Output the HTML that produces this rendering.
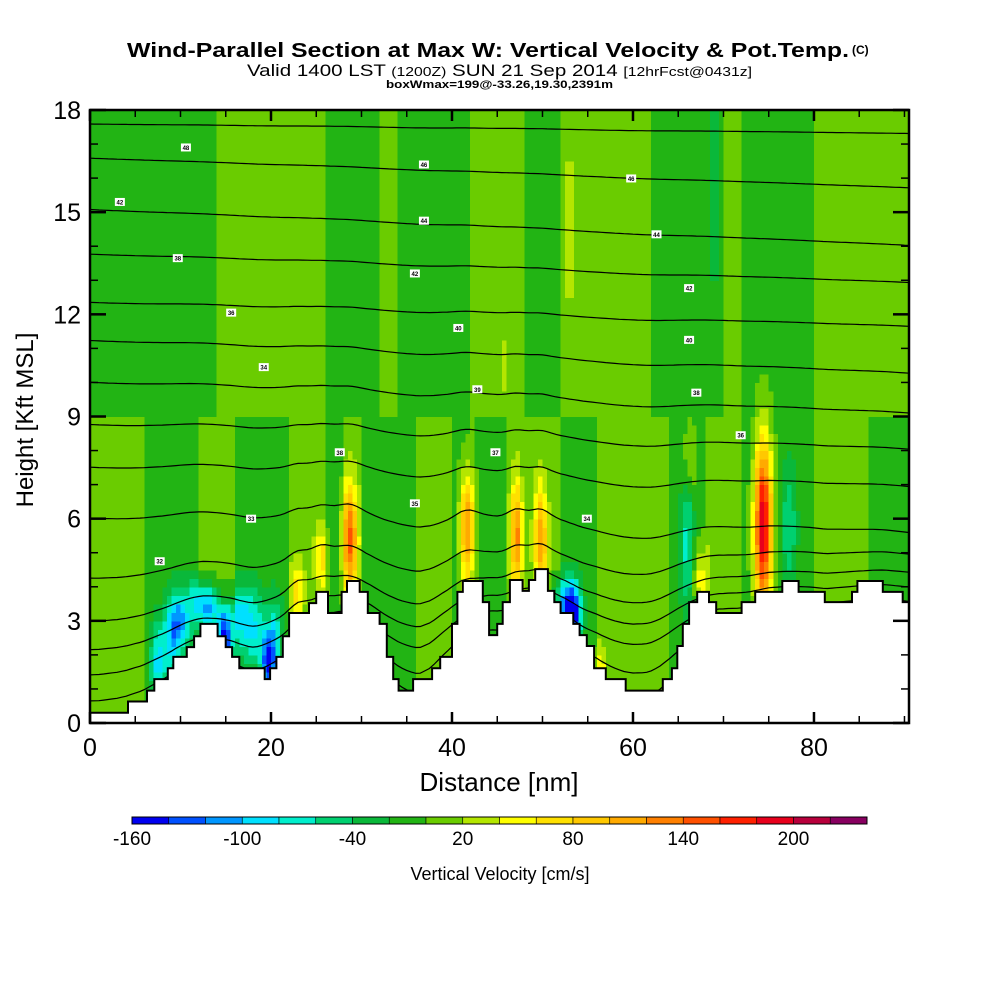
<!DOCTYPE html>
<html><head><meta charset="utf-8"><style>
html,body{margin:0;padding:0;background:#fff;}
svg{display:block;font-family:"Liberation Sans",Arial,sans-serif;}
</style></head><body>
<svg id="chart" width="1000" height="1000" viewBox="0 0 1000 1000" xmlns="http://www.w3.org/2000/svg">
<rect width="1000" height="1000" fill="#fff"/>
<text x="127" y="57" font-size="20" font-weight="bold" textLength="722" lengthAdjust="spacingAndGlyphs">Wind-Parallel Section at Max W: Vertical Velocity &amp; Pot.Temp.</text>
<text x="852" y="54" font-size="12" font-weight="bold">(C)</text>
<text x="247" y="76" font-size="17" textLength="505" lengthAdjust="spacingAndGlyphs">Valid 1400 LST <tspan font-size="13">(1200Z)</tspan> SUN 21 Sep 2014 <tspan font-size="13">[12hrFcst@0431z]</tspan></text>
<text x="386" y="88" font-size="11" font-weight="bold" textLength="227" lengthAdjust="spacingAndGlyphs">boxWmax=199@-33.26,19.30,2391m</text>
<defs><clipPath id="plotclip"><rect x="90" y="110" width="819" height="613"/></clipPath></defs>
<g id="field" clip-path="url(#plotclip)" shape-rendering="crispEdges"></g>
<g id="contours" clip-path="url(#plotclip)"></g>
<g id="terrain" clip-path="url(#plotclip)"></g>
<g id="clabels"></g>
<g id="axes"></g>
<g id="cbar"></g>
<text x="499" y="791" font-size="26" text-anchor="middle">Distance [nm]</text>
<text x="0" y="0" font-size="24" text-anchor="middle" transform="translate(33,420) rotate(-90)">Height [Kft MSL]</text>
<text x="500" y="880" font-size="18" text-anchor="middle">Vertical Velocity [cm/s]</text>
</svg>
<script>
// ---- data ----
const colorLevels = [-160,-140,-120,-100,-80,-60,-40,-20,0,20,40,60,80,100,120,140,160,180,200,220,240];
const colorValues = ["#0000f0","#0050ff","#0096ff","#00e0ff","#00eecc","#00d070","#0ab83a","#22b414","#6acc00","#b4e600","#ffff00","#ffe000","#ffc800","#ffaa00","#ff8000","#ff5000","#ff2000","#e8001c","#b8003c","#880060"];
const colorbarLabels = [-160,-100,-40,20,80,140,200];
const xTicks = [0,20,40,60,80];
const yTicks = [0,3,6,9,12,15,18];
const terrainX = [0,4.2,6.3,7.1,8.6,9.2,10.7,11.5,12.2,14.1,15.0,15.7,16.5,19.3,19.9,20.6,21.3,22.0,24.2,25.0,26.3,27.8,28.4,29.8,30.7,32.0,32.8,33.5,34.1,35.7,37.8,38.7,40.0,40.6,41.2,43.4,44.1,45.0,45.6,46.4,47.8,48.5,49.2,50.6,51.3,52.0,53.4,54.1,54.9,55.7,57.0,59.2,63.3,64.3,64.9,65.5,66.2,67.1,68.4,69.2,72.0,73.5,76.5,78.3,81.2,84.2,84.8,87.6,89.8];
const terrainZ = [0.30,0.63,0.95,1.29,1.61,1.94,2.23,2.55,2.91,2.55,2.23,1.94,1.61,1.29,1.61,1.94,2.55,3.23,3.52,3.85,3.23,3.85,4.17,3.85,3.23,2.91,1.94,1.29,0.95,1.29,1.61,1.94,2.91,3.85,4.17,3.55,2.58,2.91,3.55,4.20,3.88,4.20,4.52,3.88,3.55,3.23,2.91,2.58,2.26,1.61,1.29,0.95,1.29,1.61,2.26,2.91,3.55,3.85,3.55,3.23,3.55,3.85,4.17,3.85,3.55,3.85,4.17,3.85,3.55];
const baseUpper = [-10,-10,-10,-10,-10,-10,-10,10,10,10,10,10,10,-10,-10,-10,10,-10,-10,-10,-10,10,10,10,-10,-10,10,10,10,10,10,-10,-10,-10,-10,10,-10,-10,-10,-10,10,10,10,10,10,10];
const baseLower = [10,10,10,-10,-10,-10,10,10,-10,-10,-10,10,10,-10,10,-10,-10,-10,10,10,-10,-10,-10,10,10,10,-10,-10,10,10,10,10,-10,-10,10,10,-10,-10,-10,-10,10,10,10,-10,-10,-10];
const blobX = [28.7,25.6,22.9,41.7,47.1,49.8,74.4,67.5,66.3,53.0,56.3,45.6,7.5,10,13,14.9,19.7,18,53.4,52.3,66.0,77.2,69.0,9.0,16.5,20.5,12.0];
const blobZ = [5.4,4.8,3.9,5.7,5.5,5.4,5.8,4.2,7.8,14.5,1.5,10.4,1.8,3.0,3.3,2.5,1.8,2.8,3.2,3.6,5.2,5.8,15.5,2.4,3.2,2.6,3.8];
const blobW = [140,60,60,130,120,110,210,60,40,30,50,30,-80,-90,-100,-150,-140,-70,-150,-80,-60,-50,-40,-70,-60,-60,-40];
const blobSX = [0.6,0.5,0.5,0.6,0.45,0.5,0.7,0.6,0.5,0.4,0.5,0.2,0.6,0.8,1.0,0.6,0.5,1.0,0.6,0.9,0.5,0.6,0.3,0.6,0.8,0.6,1.2];
const blobSZ = [1.1,0.7,0.6,1.2,1.1,1.1,1.8,0.8,0.8,1.5,0.5,0.6,0.8,0.6,0.5,0.6,0.6,0.8,0.6,0.5,1.5,1.2,1.8,0.9,0.6,0.8,0.4];
const thetaLeft = [17.6,16.6,15.1,13.8,12.4,11.3,10.1,8.9,7.7,6.3,4.7,3.6,2.9,2.3,1.7,1.3,0.8,0.4];
const thetaRight = [17.3,15.7,14.0,12.9,11.6,10.2,9.0,7.9,6.75,5.3,4.6,4.0,3.5,3.0,2.2,1.5,1.0,0.6];
const labelNm = [10.6,3.3,9.7,15.6,19.2,7.7,17.8,27.6,35.9,36.9,36.9,35.9,40.7,42.8,44.8,59.8,62.6,66.2,66.2,67.0,71.9,54.9];
const labelKft = [16.9,15.3,13.65,12.05,10.45,4.75,6.0,7.95,6.45,16.4,14.75,13.2,11.6,9.8,7.95,15.99,14.35,12.77,11.25,9.7,8.45,6.0];
const labelText = ["48","42","38","36","34","32","33","38","35","46","44","42","40","39","37","46","44","42","40","38","36","34"];

const X0=90, X1=909, Y0=723, Y1=110, NMMAX=90.5;
const xs = nm => X0 + nm*(X1-X0)/NMMAX;
const ys = k => Y0 - k*(Y0-Y1)/18;
const NS="http://www.w3.org/2000/svg";
function mk(tag, parent){const e=document.createElementNS(NS,tag);parent.appendChild(e);return e;}
function colorFor(v){let i=Math.floor((v-colorLevels[0])/20);i=Math.max(0,Math.min(colorValues.length-1,i));return colorValues[i];}
function terrainAt(nm){let h=terrainZ[0];for(let i=0;i<terrainX.length;i++){if(nm>=terrainX[i])h=terrainZ[i];}return h;}
function wAt(nm,z){
  const c=Math.max(0,Math.min(baseUpper.length-1,Math.floor(nm/2)));
  let t=(z-8)/2;t=Math.max(0,Math.min(1,t));
  let v=baseLower[c]*(1-t)+baseUpper[c]*t;
  for(let i=0;i<blobX.length;i++){
    const dx=(nm-blobX[i])/blobSX[i], dz=(z-blobZ[i])/blobSZ[i];
    v+=blobW[i]*Math.exp(-0.5*(dx*dx+dz*dz));
  }
  return v;
}
const field=document.getElementById('field');
const DX=0.5, DZ=0.25;
for(let nm=0;nm<NMMAX;nm+=DX){
  for(let z=0;z<18;z+=DZ){
    const v=wAt(nm+DX/2,z+DZ/2);
    const r=mk('rect',field);
    
    
    r.setAttribute('x',xs(nm).toFixed(2));
    r.setAttribute('y',ys(z+DZ).toFixed(2));
    r.setAttribute('width',(xs(DX)-X0+0.6).toFixed(2));
    r.setAttribute('height',(ys(0)-ys(DZ)+0.6).toFixed(2));
    r.setAttribute('fill',colorFor(v));
  }
}
function smoothTerrain(nm){let s=0,n=0;for(let d=-3;d<=3;d+=0.5){s+=terrainAt(Math.max(0,Math.min(NMMAX,nm+d)));n++;}return s/n;}
const cg=document.getElementById('contours');
for(let j=0;j<thetaLeft.length;j++){
  let pts=[];
  for(let nm=0;nm<=NMMAX+0.01;nm+=0.5){
    const b=thetaLeft[j]+(thetaRight[j]-thetaLeft[j])*nm/NMMAX;
    let z=b+(smoothTerrain(nm)-2.2)*0.9*Math.exp(-b/3.5);
    for(let i=0;i<6;i++){const dx=(nm-blobX[i])/(blobSX[i]*2);z+=0.25*Math.exp(-0.5*dx*dx)*Math.exp(-Math.abs(b-blobZ[i])/3);}
    pts.push(xs(nm).toFixed(1)+','+ys(z).toFixed(1));
  }
  const p=mk('polyline',cg);
  
  
  p.setAttribute('points',pts.join(' '));
  p.setAttribute('fill','none');p.setAttribute('stroke','#000');p.setAttribute('stroke-width','1.2');
}
const tg=document.getElementById('terrain');
let tp=[];
for(let i=0;i<terrainX.length;i++){
  const xa=xs(terrainX[i]), xb=xs(i+1<terrainX.length?terrainX[i+1]:NMMAX);
  tp.push(xa.toFixed(1)+','+ys(terrainZ[i]).toFixed(1));
  tp.push(xb.toFixed(1)+','+ys(terrainZ[i]).toFixed(1));
}
const tpoly=mk('polygon',tg);


tpoly.setAttribute('points',tp.join(' ')+' '+X1+','+(Y0+5)+' '+X0+','+(Y0+5));
tpoly.setAttribute('fill','#fff');tpoly.setAttribute('stroke','#000');tpoly.setAttribute('stroke-width','2');
const lg=document.getElementById('clabels');
for(let i=0;i<labelNm.length;i++){
  const x=xs(labelNm[i]), y=ys(labelKft[i]);
  const r=mk('rect',lg);
  
  
  r.setAttribute('x',x-5);r.setAttribute('y',y-4);r.setAttribute('width',10);r.setAttribute('height',8);r.setAttribute('fill','#fff');
  const t=mk('text',lg);
  
  
  t.setAttribute('x',x);t.setAttribute('y',y+2.5);t.setAttribute('font-size','6');t.setAttribute('font-weight','bold');t.setAttribute('text-anchor','middle');
  t.textContent=labelText[i];
}
const ag=document.getElementById('axes');
const frame=mk('rect',ag);


frame.setAttribute('x',X0);frame.setAttribute('y',Y1);frame.setAttribute('width',X1-X0);frame.setAttribute('height',Y0-Y1);
frame.setAttribute('fill','none');frame.setAttribute('stroke','#000');frame.setAttribute('stroke-width','2.5');
function line(x1,y1,x2,y2,w,name){const l=mk('line',ag);l.setAttribute('x1',x1);l.setAttribute('y1',y1);l.setAttribute('x2',x2);l.setAttribute('y2',y2);l.setAttribute('stroke','#000');l.setAttribute('stroke-width',w);}
for(let nm=0;nm<=NMMAX;nm+=5){
  const major=nm%20===0, L=major?11:7, x=xs(nm);
  line(x,Y0,x,Y0-L,major?2.5:1.5,'x-tick');
  line(x,Y1,x,Y1+L,major?2.5:1.5,'x-tick');
}
for(let k=0;k<=18;k++){
  const major=k%3===0, L=major?16:8, y=ys(k);
  line(X0,y,X0+L,y,major?2.5:1.5,'y-tick');
  line(X1,y,X1-L,y,major?2.5:1.5,'y-tick');
}
xTicks.forEach(v=>{const t=mk('text',ag);t.setAttribute('x',xs(v));t.setAttribute('y',756);t.setAttribute('font-size','25');t.setAttribute('text-anchor','middle');t.textContent=v;});
yTicks.forEach(v=>{const t=mk('text',ag);t.setAttribute('x',81);t.setAttribute('y',ys(v)+9);t.setAttribute('font-size','25');t.setAttribute('text-anchor','end');t.textContent=v;});
const cb=document.getElementById('cbar');
const CB0=132, CB1=867, CBW=(CB1-CB0)/colorValues.length;
const cbx = v => CB0 + (v-colorLevels[0])/(colorLevels[colorLevels.length-1]-colorLevels[0])*(CB1-CB0);
colorValues.forEach((c,i)=>{
  const r=mk('rect',cb);
  
  
  r.setAttribute('x',cbx(colorLevels[i]));r.setAttribute('y',817);r.setAttribute('width',CBW);r.setAttribute('height',7);
  r.setAttribute('fill',c);r.setAttribute('stroke','#000');r.setAttribute('stroke-width','0.6');
});
const cbf=mk('rect',cb);


cbf.setAttribute('x',CB0);cbf.setAttribute('y',817);cbf.setAttribute('width',CB1-CB0);cbf.setAttribute('height',7);cbf.setAttribute('fill','none');cbf.setAttribute('stroke','#000');cbf.setAttribute('stroke-width','1');
colorbarLabels.forEach(v=>{const t=mk('text',cb);t.setAttribute('x',cbx(v));t.setAttribute('y',845);t.setAttribute('font-size','19');t.setAttribute('text-anchor','middle');t.textContent=v;});
</script>
</body></html>
